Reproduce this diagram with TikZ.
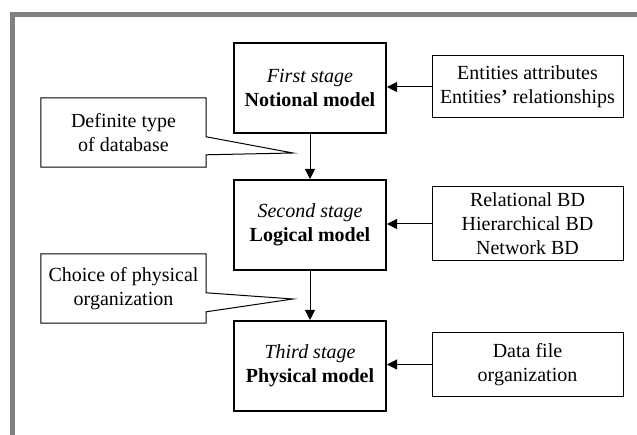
\documentclass[tikz,border=0pt]{standalone}
\usepackage{fontspec}
\setmainfont{Liberation Serif}
\usepackage{tikz}
\usetikzlibrary{calc}
\usetikzlibrary{arrows.meta}

\tikzset{
  stagebox/.style={draw, line width=2pt, minimum width=152pt, minimum height=90pt, align=center, inner sep=0pt},
  notebox/.style={draw, line width=1pt, minimum width=191pt, align=center, inner sep=0pt},
  callbox/.style={minimum width=165pt, minimum height=69pt, align=center, inner sep=0pt},
  flow/.style={line width=1pt, -{Triangle[length=10pt,width=10pt]}},
}

\begin{document}
\begin{tikzpicture}[x=1pt, y=-1pt, font=\fontsize{20}{24}\selectfont]
        \useasboundingbox (0,0) rectangle (637,435);
        %RAMKA
        \fill[gray] (10,12) rectangle (637,17);
        \fill[gray] (10,12) rectangle (15,435);
        %ETAPY
        \node[stagebox] (first) at (310,88) {\textit{First stage}\\\textbf{Notional model}};
        \node[stagebox] (second) at (310,225) {\textit{Second stage}\\\textbf{Logical model}};
        \node[stagebox] (third) at (310,366) {\textit{Third stage}\\\textbf{Physical model}};
        %OPISY
        \node[notebox, minimum height=62pt] (ent) at (527.5,87) {Entities attributes\\Entities\textbf{’} relationships};
        \node[notebox, minimum height=74pt] (types) at (527.5,224) {Relational BD\\Hierarchical BD\\Network BD};
        \node[notebox, minimum height=63pt] (files) at (527.5,364.5) {Data file\\organization};
        %STRZALKI
        \draw[flow] (first) -- (second);
        \draw[flow] (second) -- (third);
        \draw[flow] (ent.west) -- (ent.west -| first.east);
        \draw[flow] (types.west) -- (types.west -| second.east);
        \draw[flow] (files.west) -- (files.west -| third.east);
        %DYMKI
        \coordinate (tipA) at (293,153);
        \coordinate (tipB) at (293,299);
        \node[callbox] (defA) at (123.5,132.5) {Definite type\\of database};
        \node[callbox] (choB) at (123.5,288.5) {Choice of physical\\organization};
        \draw[line width=1pt] (defA.north west) -- (defA.north east) -- ([yshift=-39pt]defA.north east) -- (tipA)
          -- ([yshift=-57pt]defA.north east) -- (defA.south east) -- (defA.south west) -- cycle;
        \draw[line width=1pt] (choB.north west) -- (choB.north east) -- ([yshift=-39pt]choB.north east) -- (tipB)
          -- ([yshift=-58pt]choB.north east) -- (choB.south east) -- (choB.south west) -- cycle;
    \end{tikzpicture}
\end{document}
